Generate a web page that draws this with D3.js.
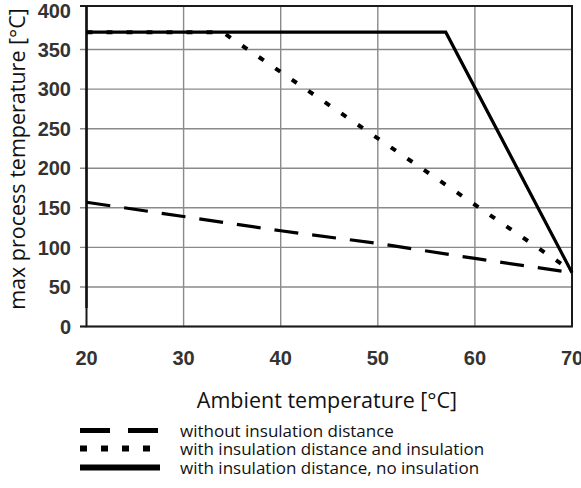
<!DOCTYPE html>
<html><head><meta charset="utf-8">
<script src="https://cdn.jsdelivr.net/npm/d3@7"></script>
<style>body{margin:0;background:#fff}svg{display:block}</style>
</head><body><svg id="c" width="581" height="488"></svg>
<script>
const xTicks = [20, 30, 40, 50, 60, 70];
const yTicks = [0, 50, 100, 150, 200, 250, 300, 350, 400];
const seriesNames = ["without insulation distance", "with insulation distance and insulation", "with insulation distance, no insulation"];
const dashedX = [20, 30, 40, 50, 60, 70];
const dashedY = [157, 139, 121, 105, 86, 68];
const dottedX = [20, 34, 70];
const dottedY = [372, 372, 70];
const solidX = [20, 57, 70];
const solidY = [372, 372, 68];

const svg = d3.select("#c");
const x = d3.scaleLinear().domain([20, 70]).range([86.5, 572]);
const y = d3.scaleLinear().domain([0, 400]).range([326.5, 10]);
const tickFont = "'Liberation Sans', Arial, sans-serif";
const textFont = "'Open Sans', 'Noto Sans', sans-serif";
const frameTop = 6;

// grid (the 400 line coincides with the frame top)
svg.append("g").selectAll("line").data(yTicks).join("line")
  .attr("x1", 80).attr("x2", 572)
  .attr("y1", d => d === 400 ? frameTop : y(d)).attr("y2", d => d === 400 ? frameTop : y(d))
  .attr("stroke", d => d === 400 ? "#1a1a1a" : "#8a8a8a").attr("stroke-width", d => d === 400 ? 2 : 1.4);
svg.append("g").selectAll("line").data(xTicks.slice(1, -1)).join("line")
  .attr("x1", d => x(d)).attr("x2", d => x(d)).attr("y1", frameTop).attr("y2", y(0))
  .attr("stroke", "#8a8a8a").attr("stroke-width", 1.4);

// frame
svg.append("rect").attr("x", x(20)).attr("y", frameTop).attr("width", x(70) - x(20)).attr("height", y(0) - frameTop)
  .attr("fill", "none").attr("stroke", "#1a1a1a").attr("stroke-width", 2);
svg.append("line").attr("x1", 80).attr("x2", x(20)).attr("y1", y(0)).attr("y2", y(0))
  .attr("stroke", "#1a1a1a").attr("stroke-width", 2);
svg.append("line").attr("x1", x(20)).attr("x2", x(20)).attr("y1", frameTop).attr("y2", 308)
  .attr("stroke", "#111").attr("stroke-width", 2.4);

// tick labels
svg.append("g").selectAll("text").data(yTicks).join("text")
  .attr("x", 71).attr("y", d => d === 400 ? 11 : y(d)).attr("dy", "0.36em").attr("text-anchor", "end")
  .attr("font-family", tickFont).attr("font-weight", "bold").attr("font-size", 20).attr("fill", "#333")
  .text(d => d);
svg.append("g").selectAll("text").data(xTicks).join("text")
  .attr("x", d => x(d)).attr("y", 358).attr("dy", "0.36em").attr("text-anchor", "middle")
  .attr("font-family", tickFont).attr("font-weight", "bold").attr("font-size", 20).attr("fill", "#333")
  .text(d => d);

// axis titles
svg.append("text").attr("x", 327).attr("y", 400).attr("dy", "0.36em").attr("text-anchor", "middle")
  .attr("font-family", textFont).attr("font-size", 21.5).attr("fill", "#111").text("Ambient temperature [°C]");
svg.append("text").attr("transform", "translate(25,159) rotate(-90)").attr("text-anchor", "middle")
  .attr("font-family", textFont).attr("font-size", 21.5).attr("fill", "#111").text("max process temperature [°C]");

// series
const line = d3.line().x(d => x(d[0])).y(d => y(d[1]));
const styles = [
  { xs: dashedX, ys: dashedY, w: 3.2, dash: "24,14", legDash: "30,18", legW: 5 },
  { xs: dottedX, ys: dottedY, w: 4, dash: "6,14", legDash: "7,14", legW: 6 },
  { xs: solidX, ys: solidY, w: 3.2, dash: null, legDash: null, legW: 6 }
];
styles.forEach(s => {
  svg.append("path").datum(s.xs.map((v, i) => [v, s.ys[i]]))
    .attr("d", line).attr("fill", "none").attr("stroke", "#000").attr("stroke-width", s.w)
    .attr("stroke-dasharray", s.dash);
});

// legend
const legY = [430.5, 448.5, 467.5];
seriesNames.forEach((n, i) => {
  svg.append("line").attr("x1", 80).attr("x2", 160).attr("y1", legY[i]).attr("y2", legY[i])
    .attr("stroke", "#000").attr("stroke-width", styles[i].legW).attr("stroke-dasharray", styles[i].legDash);
  svg.append("text").attr("x", 180).attr("y", legY[i]).attr("dy", "0.36em")
    .attr("font-family", textFont).attr("font-size", 17).attr("fill", "#111").text(n);
});
</script></body></html>
